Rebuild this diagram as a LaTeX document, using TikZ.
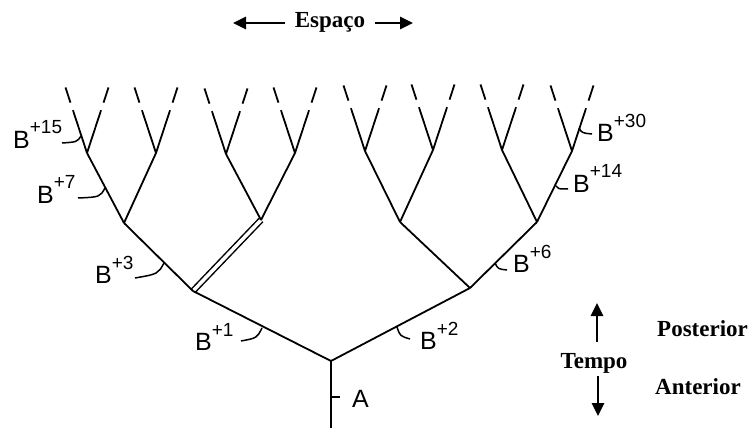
\documentclass[tikz,border=0pt]{standalone}
\usepackage{fontspec}
\setmainfont{Liberation Serif}
\setsansfont{Liberation Sans}
\usepackage{tikz}
\usetikzlibrary{arrows.meta,calc}
\newcommand{\bsup}[1]{B\raisebox{14pt}{\fontsize{19}{19}\selectfont +#1}}

\begin{document}
\begin{tikzpicture}[
        x=1pt,y=-1pt,
        branch/.style={line width=1.8pt},
        leaf/.style={line width=1.8pt,dash pattern=on 45pt off 8pt on 16pt off 30pt},
        tick/.style={line width=1.5pt},
        blabel/.style={anchor=base west,inner sep=0pt,font=\sffamily\fontsize{25}{25}\selectfont},
        axislabel/.style={inner sep=0pt,font=\bfseries\fontsize{23}{23}\selectfont},
        arrow/.style={-{Triangle[length=13pt,width=12pt]},line width=2.6pt}
      ]
      \useasboundingbox (0,0) rectangle (748,428);

      % tree points
      \coordinate (base) at (331,428);
      \coordinate (r) at (331,361);
      \coordinate (n1) at (193,291);
      \coordinate (n2) at (470,288);
      \coordinate (n11) at (124,223);
      \coordinate (n12) at (261,220);
      \coordinate (n21) at (400,222);
      \coordinate (n22) at (537,222);
      \coordinate (l1) at (87,153);
      \coordinate (l2) at (156,153);
      \coordinate (l3) at (226,154);
      \coordinate (l4) at (295,153);
      \coordinate (l5) at (365,151);
      \coordinate (l6) at (433,150);
      \coordinate (l7) at (502,150);
      \coordinate (l8) at (572,151);

      \draw[line width=1.5pt,double,double distance=3.5pt] (n1) -- (n12);
      \draw[branch] (base) -- (r);
      \draw[branch] (r) -- (n1);
      \draw[branch] (r) -- (n2);
      \draw[branch] (n1) -- (n11);
      \draw[branch] (n2) -- (n21);
      \draw[branch] (n2) -- (n22);
      \foreach \p/\a/\b in {n11/l1/l2,n12/l3/l4,n21/l5/l6,n22/l7/l8} {
        \draw[branch] (\p) -- (\a);
        \draw[branch] (\p) -- (\b);
      }

      % growing tips
      \foreach \n in {l1,l2,l3,l4,l5,l6,l7,l8} {
        \path (\n) ++(-22,-67) coordinate (\n a);
        \path (\n) ++(22,-67) coordinate (\n b);
        \draw[leaf] (\n) -- (\n a);
        \draw[leaf] (\n) -- (\n b);
      }

      % marks
      \draw[tick] (81,136) .. controls (77,142) .. (62,143);
      \draw[tick] (105,188) .. controls (100,197) .. (78,198);
      \draw[tick] (164,263) .. controls (158,274) .. (135,278);
      \draw[tick] (262,328) .. controls (257,338) .. (241,341);
      \draw[tick] (397,327) .. controls (400,336) .. (410,339);
      \draw[tick] (495,263) .. controls (498,269) .. (507,270);
      \draw[tick] (556,186) .. controls (558,189) .. (568,189);
      \draw[tick] (579,128) .. controls (582,133) .. (592,134);
      \draw[tick] (331,397) -- (340,397);

      \node[blabel] (b15) at (13,148) {\bsup{15}};
      \node[blabel] (b7) at (37,203) {\bsup{7}};
      \node[blabel] (b3) at (95,283) {\bsup{3}};
      \node[blabel] (b1) at (195,350) {\bsup{1}};
      \node[blabel] (b2) at (420,349) {\bsup{2}};
      \node[blabel] (b6) at (513,272) {\bsup{6}};
      \node[blabel] (b14) at (573,192) {\bsup{14}};
      \node[blabel] (b30) at (597,142) {\bsup{30}};
      \node[blabel] (a) at (352,407) {A};

      % axes
      \node[axislabel,anchor=base,inner xsep=10pt] (espaco) at (330,28) {Espaço};
      \coordinate (eL) at (233,23);
      \coordinate (eR) at (413,23);
      \draw[arrow] (espaco.west |- eL) -- (eL);
      \draw[arrow] (espaco.east |- eR) -- (eR);

      \node[axislabel,anchor=base,inner sep=3pt] (tempo) at (594,368) {Tempo};
      \coordinate (tup) at (597,303);
      \coordinate (tdown) at (598,416);
      \draw[arrow,shorten <=8pt] (tempo.north -| tup) -- (tup);
      \draw[arrow] (tempo.south -| tdown) -- (tdown);
      \node[axislabel,anchor=base west] (post) at (657,336) {Posterior};
      \node[axislabel,anchor=base west] (ante) at (655,394) {Anterior};
    \end{tikzpicture}
\end{document}
